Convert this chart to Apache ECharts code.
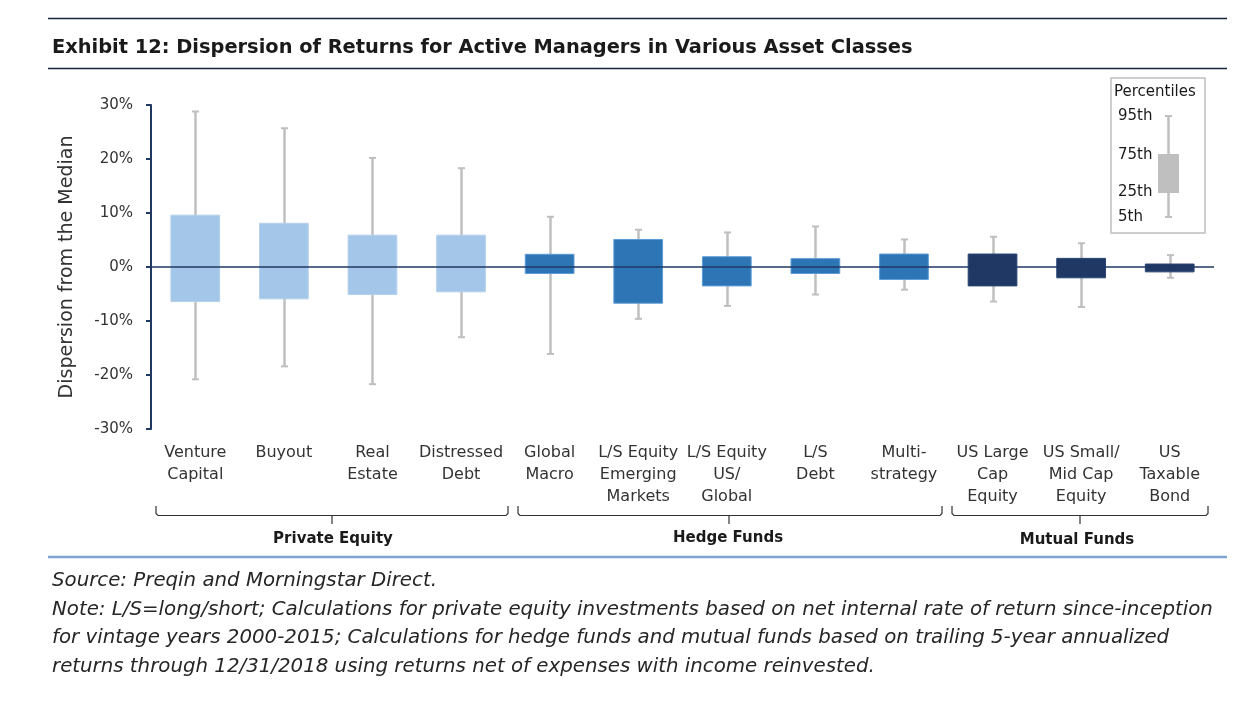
<!DOCTYPE html>
<html>
<head>
<meta charset="utf-8">
<script src="https://cdn.jsdelivr.net/npm/echarts@6/dist/echarts.min.js"></script>
<style>
html,body{margin:0;padding:0;background:#fff;}
#chart{width:1247px;height:707px;}
</style>
</head>
<body>
<div id="chart"></div>
<script>
// ---- data ----
var categories = ['Venture\nCapital','Buyout','Real\nEstate','Distressed\nDebt','Global\nMacro',
  'L/S Equity\nEmerging\nMarkets','L/S Equity\nUS/\nGlobal','L/S\nDebt','Multi-\nstrategy',
  'US Large\nCap\nEquity','US Small/\nMid Cap\nEquity','US\nTaxable\nBond'];
var groupOf = ['PE','PE','PE','PE','HF','HF','HF','HF','HF','MF','MF','MF'];
var p95 = [28.8, 25.7, 20.2, 18.3, 9.3, 6.9, 6.4, 7.5, 5.1, 5.6, 4.4, 2.2];
var p75 = [9.6, 8.1, 5.9, 5.9, 2.35, 5.1, 1.9, 1.55, 2.4, 2.4, 1.6, 0.55];
var p25 = [-6.4, -5.9, -5.1, -4.6, -1.2, -6.7, -3.5, -1.2, -2.3, -3.5, -2.0, -0.9];
var p5  = [-20.8, -18.4, -21.7, -13.0, -16.1, -9.6, -7.2, -5.1, -4.2, -6.4, -7.4, -2.0];
var yTicks = {min: -30, max: 30, interval: 10};

// ---- styles ----
var groupColor = {PE: '#A4C6E8', HF: '#2E75B6', MF: '#1F3864'};
var groupEdge = {PE: '#B4D0EC', HF: '#5B9BD5', MF: '#2A4675'};
var whisker = '#BFBFBF';
var fontF = '"DejaVu Sans", sans-serif';
var noteFont = 'italic 19.8px "DejaVu Sans"';

var seriesData = categories.map(function(c, i){
  return [i, p5[i], p25[i], p75[i], p95[i]];
});

var chart = echarts.init(document.getElementById('chart'));

function bracket(L, M, R){
  var y0 = 506, y1 = 515.5, y2 = 524;
  return [
    {type: 'polyline', shape: {points: [[L, y0], [L, y1 - 2], [L + 2, y1], [R - 2, y1], [R, y1 - 2], [R, y0]]},
      style: {stroke: '#333', lineWidth: 1.2, fill: null}},
    {type: 'line', shape: {x1: M, y1: y1, x2: M, y2: y2}, style: {stroke: '#333', lineWidth: 1.2}}
  ];
}

var graphics = [
  {type: 'line', shape: {x1: 48, y1: 18.5, x2: 1227, y2: 18.5}, style: {stroke: '#17263C', lineWidth: 1.5}},
  {type: 'line', shape: {x1: 48, y1: 68.5, x2: 1227, y2: 68.5}, style: {stroke: '#17263C', lineWidth: 1.5}},
  {type: 'line', shape: {x1: 48, y1: 557, x2: 1227, y2: 557}, style: {stroke: '#7FA3D1', lineWidth: 2.5}},
  {type: 'text', x: 333, y: 539, style: {text: 'Private Equity', font: 'bold 15px "DejaVu Sans"', fill: '#1a1a1a', textAlign: 'center', textVerticalAlign: 'middle'}},
  {type: 'text', x: 728, y: 538, style: {text: 'Hedge Funds', font: 'bold 15px "DejaVu Sans"', fill: '#1a1a1a', textAlign: 'center', textVerticalAlign: 'middle'}},
  {type: 'text', x: 1077, y: 540, style: {text: 'Mutual Funds', font: 'bold 15px "DejaVu Sans"', fill: '#1a1a1a', textAlign: 'center', textVerticalAlign: 'middle'}},
  // legend
  {type: 'rect', shape: {x: 1111, y: 78, width: 94, height: 155}, style: {fill: '#fff', stroke: '#BFBFBF', lineWidth: 1.5}},
  {type: 'text', x: 1114, y: 92, style: {text: 'Percentiles', font: '15px "DejaVu Sans"', fill: '#1a1a1a', textVerticalAlign: 'middle'}},
  {type: 'text', x: 1118, y: 116, style: {text: '95th', font: '15px "DejaVu Sans"', fill: '#1a1a1a', textVerticalAlign: 'middle'}},
  {type: 'text', x: 1118, y: 155, style: {text: '75th', font: '15px "DejaVu Sans"', fill: '#1a1a1a', textVerticalAlign: 'middle'}},
  {type: 'text', x: 1118, y: 192, style: {text: '25th', font: '15px "DejaVu Sans"', fill: '#1a1a1a', textVerticalAlign: 'middle'}},
  {type: 'text', x: 1118, y: 217, style: {text: '5th', font: '15px "DejaVu Sans"', fill: '#1a1a1a', textVerticalAlign: 'middle'}},
  {type: 'line', shape: {x1: 1168.5, y1: 116, x2: 1168.5, y2: 217}, style: {stroke: whisker, lineWidth: 2.5}},
  {type: 'line', shape: {x1: 1165, y1: 116, x2: 1172, y2: 116}, style: {stroke: whisker, lineWidth: 2}},
  {type: 'line', shape: {x1: 1165, y1: 217, x2: 1172, y2: 217}, style: {stroke: whisker, lineWidth: 2}},
  {type: 'rect', shape: {x: 1158, y: 154, width: 21, height: 39}, style: {fill: '#BFBFBF'}},
  // footnotes
  {type: 'text', x: 52, y: 581, style: {text: 'Source: Preqin and Morningstar Direct.', font: noteFont, fill: '#262626', textVerticalAlign: 'middle'}},
  {type: 'text', x: 52, y: 610, style: {text: 'Note: L/S=long/short; Calculations for private equity investments based on net internal rate of return since-inception', font: noteFont, fill: '#262626', textVerticalAlign: 'middle'}},
  {type: 'text', x: 52, y: 638, style: {text: 'for vintage years 2000-2015; Calculations for hedge funds and mutual funds based on trailing 5-year annualized', font: noteFont, fill: '#262626', textVerticalAlign: 'middle'}},
  {type: 'text', x: 52, y: 667, style: {text: 'returns through 12/31/2018 using returns net of expenses with income reinvested.', font: noteFont, fill: '#262626', textVerticalAlign: 'middle'}}
].concat(bracket(156, 332, 508), bracket(518, 729, 942), bracket(952, 1080, 1208));

var option = {
  animation: false,
  backgroundColor: '#fff',
  title: {
    text: 'Exhibit 12: Dispersion of Returns for Active Managers in Various Asset Classes',
    left: 47, top: 33,
    textStyle: {fontFamily: fontF, fontSize: 19.4, fontWeight: 'bold', color: '#1a1a1a'}
  },
  grid: {left: 151, right: 33, top: 105, bottom: 278, containLabel: false},
  xAxis: {
    type: 'category',
    data: categories,
    position: 'bottom',
    axisLine: {show: false, onZero: false},
    axisTick: {show: false},
    axisLabel: {interval: 0, margin: 13, fontFamily: fontF, fontSize: 16, lineHeight: 22, color: '#333'},
    splitLine: {show: false}
  },
  yAxis: {
    type: 'value',
    min: yTicks.min, max: yTicks.max, interval: yTicks.interval,
    name: 'Dispersion from the Median',
    nameLocation: 'middle', nameGap: 74,
    nameTextStyle: {fontFamily: fontF, fontSize: 19, color: '#333'},
    axisLine: {show: true, lineStyle: {color: '#1F3864', width: 2}},
    axisTick: {show: true, length: 5, lineStyle: {color: '#1F3864', width: 2}},
    axisLabel: {formatter: '{value}%', fontFamily: fontF, fontSize: 15, color: '#333', margin: 18},
    splitLine: {show: false}
  },
  series: [{
    type: 'custom',
    data: seriesData,
    encode: {x: 0, y: [1, 2, 3, 4]},
    renderItem: function(params, api){
      var x = api.value(0);
      var g = groupOf[x];
      var a = api.coord([x, api.value(1)]);
      var b = api.coord([x, api.value(2)]);
      var c = api.coord([x, api.value(3)]);
      var d = api.coord([x, api.value(4)]);
      var band = api.size([1, 0])[0];
      var bw = band * 0.55;
      var cw = 3.5;
      var xc = Math.round(a[0]) + 0.5;
      return {type: 'group', children: [
        {type: 'line', shape: {x1: xc, y1: d[1], x2: xc, y2: a[1]}, style: {stroke: whisker, lineWidth: 2.5}},
        {type: 'line', shape: {x1: xc - cw, y1: d[1], x2: xc + cw, y2: d[1]}, style: {stroke: whisker, lineWidth: 2}},
        {type: 'line', shape: {x1: xc - cw, y1: a[1], x2: xc + cw, y2: a[1]}, style: {stroke: whisker, lineWidth: 2}},
        {type: 'rect', shape: {x: a[0] - bw / 2, y: c[1], width: bw, height: b[1] - c[1]},
          style: {fill: groupColor[g], stroke: groupEdge[g], lineWidth: 1}}
      ]};
    },
    markLine: {
      silent: true, symbol: 'none', z: 10,
      label: {show: false},
      lineStyle: {color: '#1F3864', width: 1.5, type: 'solid'},
      data: [{yAxis: 0}]
    }
  }],
  graphic: graphics
};
chart.setOption(option);
</script>
</body>
</html>
